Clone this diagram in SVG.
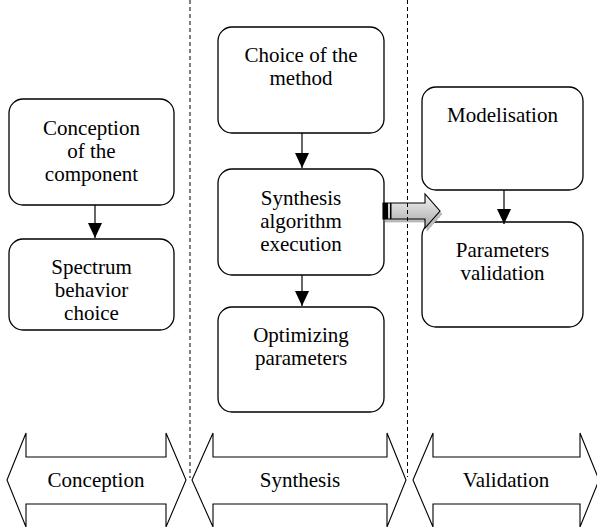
<svg xmlns="http://www.w3.org/2000/svg" width="597" height="527" viewBox="0 0 597 527">
<style>
.box{fill:#fff;stroke:#000;stroke-width:1.3}
.t{font-family:'Liberation Serif','Times New Roman',serif;font-size:21px;fill:#000;text-anchor:middle}
.ln{stroke:#000;stroke-width:1.2;fill:none}
.dash{stroke:#000;stroke-width:1;stroke-dasharray:4 3;fill:none}
.band{fill:#fff;stroke:#000;stroke-width:1.1}
</style>
<defs>
<marker id="ah" markerWidth="15" markerHeight="14" refX="15" refY="7" orient="auto" markerUnits="userSpaceOnUse" viewBox="0 0 15 14">
<path d="M0,0 L15,7 L0,14 Z" fill="#000"/>
</marker>
<linearGradient id="gg" x1="0" y1="0" x2="0" y2="1">
<stop offset="0" stop-color="#f4f4f4"/>
<stop offset="1" stop-color="#a9a9a9"/>
</linearGradient>
</defs>

<g id="bands">
<g id="band-conception">
<path class="band" d="M7,480 L26,433 L26,457 L166,457 L166,433 L186,480 L166,527 L166,504 L26,504 L26,527 Z"/>
<text class="t" x="96" y="487">Conception</text>
</g>
<g id="band-synthesis">
<path class="band" d="M192,480 L213,433 L213,457 L387,457 L387,433 L406,480 L387,527 L387,504 L213,504 L213,527 Z"/>
<text class="t" x="300" y="487">Synthesis</text>
</g>
<g id="band-validation">
<path class="band" d="M413,480 L433,433 L433,457 L580,457 L580,433 L599,480 L580,527 L580,504 L433,504 L433,527 Z"/>
<text class="t" x="506" y="487">Validation</text>
</g>
</g>

<g id="n-conception">
<rect class="box" x="9" y="99" width="165" height="106" rx="14"/>
<text class="t" x="91.5" y="135">Conception</text>
<text class="t" x="91.5" y="158">of the</text>
<text class="t" x="91.5" y="181">component</text>
</g>
<g id="n-spectrum">
<rect class="box" x="9" y="239" width="165" height="91" rx="14"/>
<text class="t" x="91.5" y="274">Spectrum</text>
<text class="t" x="91.5" y="297">behavior</text>
<text class="t" x="91.5" y="320">choice</text>
</g>
<g id="n-choice">
<rect class="box" x="218" y="27" width="166" height="106" rx="14"/>
<text class="t" x="301" y="62">Choice of the</text>
<text class="t" x="301" y="85">method</text>
</g>
<g id="n-synthesis">
<rect class="box" x="218" y="169" width="166" height="106" rx="14"/>
<text class="t" x="301" y="205">Synthesis</text>
<text class="t" x="301" y="228">algorithm</text>
<text class="t" x="301" y="251">execution</text>
</g>
<g id="n-optimizing">
<rect class="box" x="218" y="307" width="166" height="105" rx="14"/>
<text class="t" x="301" y="342">Optimizing</text>
<text class="t" x="301" y="365">parameters</text>
</g>
<g id="n-modelisation">
<rect class="box" x="422" y="87" width="161" height="103" rx="14"/>
<text class="t" x="502.5" y="122">Modelisation</text>
</g>
<g id="n-validation">
<rect class="box" x="422" y="222" width="161" height="105" rx="14"/>
<text class="t" x="502.5" y="257">Parameters</text>
<text class="t" x="502.5" y="280">validation</text>
</g>

<g id="big-arrow">
<path d="M385,206 L427,206 L427,197 L442,214 L427,231 L427,222 L385,222 Z" fill="#bdbdbd" stroke="#9a9a9a" stroke-width="1" stroke-dasharray="1 1"/>
<path d="M383,203 L425,203 L425,194 L440,211 L425,228 L425,219 L383,219 Z" fill="url(#gg)" stroke="#000" stroke-width="1.1"/>
<rect x="383" y="203" width="5" height="16" fill="#000"/>
<rect x="390" y="203" width="1.5" height="16" fill="#000"/>
</g>

<g id="connectors">
<line class="ln" x1="95" y1="205" x2="95" y2="238" marker-end="url(#ah)"/>
<line class="ln" x1="302" y1="133" x2="302" y2="168" marker-end="url(#ah)"/>
<line class="ln" x1="302" y1="275" x2="302" y2="306" marker-end="url(#ah)"/>
<line class="ln" x1="504" y1="190" x2="504" y2="224" marker-end="url(#ah)"/>
</g>

<g id="separators">
<line class="dash" x1="190" y1="0" x2="190" y2="478"/>
<line class="dash" x1="407.5" y1="0" x2="407.5" y2="477"/>
</g>
</svg>
